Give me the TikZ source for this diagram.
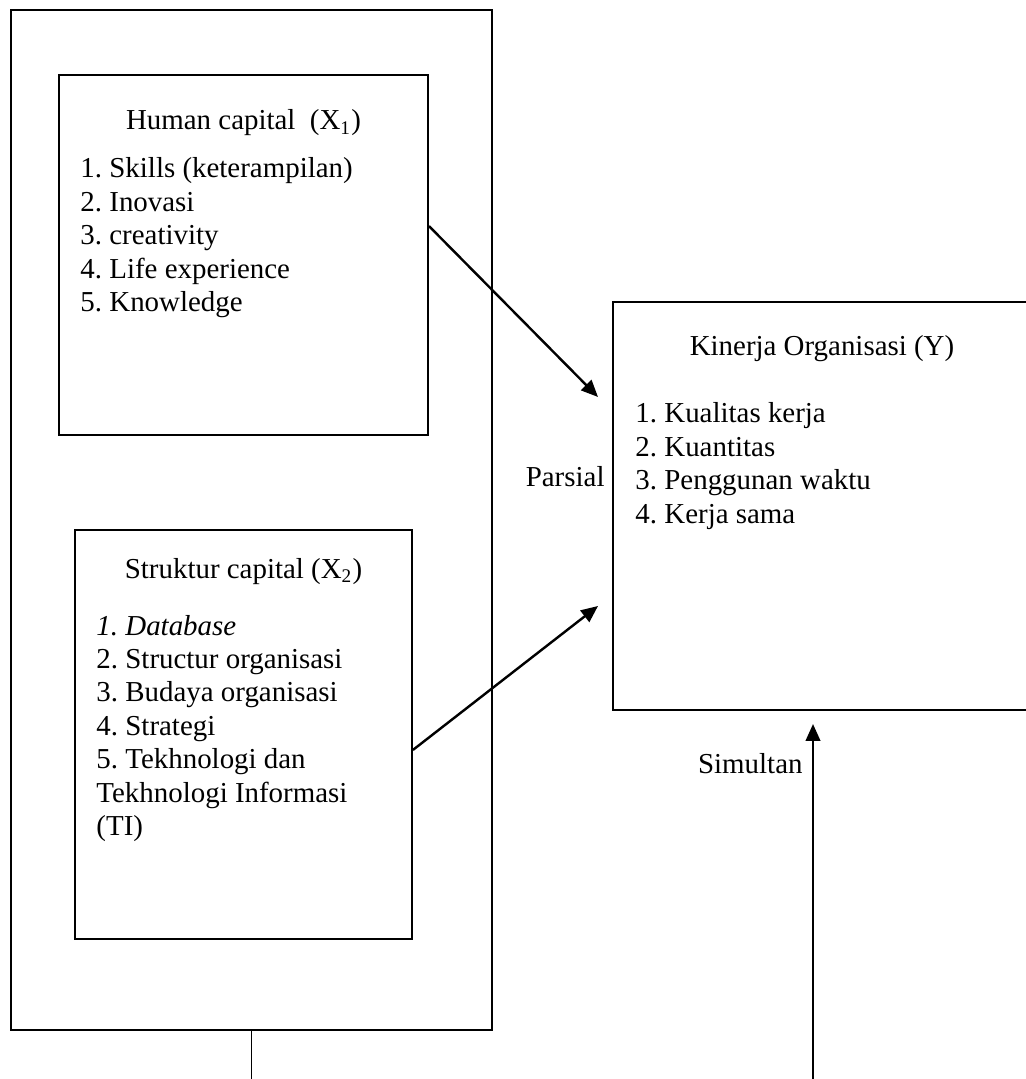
\documentclass[tikz,border=0pt]{standalone}
\usepackage{fontspec}
\setmainfont{Liberation Serif}
\usetikzlibrary{arrows.meta, positioning, fit}
\frenchspacing

\begin{document}
\begin{tikzpicture}[x=0.415pt, y=-0.415pt,
    box/.style={draw, line width=0.8pt, inner sep=0pt},
    item/.style={anchor=base west, inner sep=0pt, font=\fontsize{12}{13.8}\selectfont},
    title/.style={anchor=base, inner sep=0pt, font=\fontsize{12}{13.8}\selectfont},
    link/.style={line width=1pt, -{Triangle[length=7pt, width=6pt]}}]
    \useasboundingbox (0,0) rectangle (1025,1079);

    % Boxes
    \node[box, fit={(11,10) (492,1030)}] (outer) {};
    \node[box, fit={(59,75) (428,435)}] (human) {};
    \node[box, fit={(75,530) (412,939)}] (struktur) {};
    \node[box, fit={(613,302) (1040,710)}] (kinerja) {};

    % Human capital (X1)
    \node[title] (human-title) at (243.5,130) {Human capital\ \ (X\textsubscript{1})};
    \foreach \t [count=\i] in {1. Skills (keterampilan), 2. Inovasi, 3. creativity,
        4. Life experience, 5. Knowledge}
        \node[item] (human\i) at (80,{178+33.4*(\i-1)}) {\t};

    % Struktur capital (X2)
    \node[title] (struktur-title) at (243.5,578) {Struktur capital (X\textsubscript{2})};
    \foreach \t [count=\i] in {\textit{1. Database}, 2. Structur organisasi,
        3. Budaya organisasi, 4. Strategi, 5. Tekhnologi dan,
        Tekhnologi Informasi, {(TI)}}
        \node[item] (struktur\i) at (96,{635+33.4*(\i-1)}) {\t};

    % Kinerja Organisasi (Y)
    \node[title] (kinerja-title) at (822,356) {Kinerja Organisasi (Y)};
    \foreach \t [count=\i] in {1. Kualitas kerja, 2. Kuantitas,
        3. Penggunan waktu, 4. Kerja sama}
        \node[item] (kinerja\i) at (635,{423+33.4*(\i-1)}) {\t};

    % Labels
    \node[item, anchor=base east] (parsial) at (605,487) {Parsial};
    \node[item, anchor=base east] (simultan) at (803,773) {Simultan};

    % Arrows
    \coordinate (tip1) at (598,397);
    \coordinate (tip2) at (598,606);
    \coordinate (tip3) at (813,724);
    \coordinate (foot3) at (813,1082);
    \coordinate (foot0) at (251.5,1082);
    \draw[link] ([yshift=12pt]human.east) -- (tip1);
    \draw[link] ([yshift=-6.4pt]struktur.east) -- (tip2);
    \draw[link] (foot3) -- (tip3);
    \draw[line width=0.5pt] (outer.south) -- (foot0);
\end{tikzpicture}
\end{document}
